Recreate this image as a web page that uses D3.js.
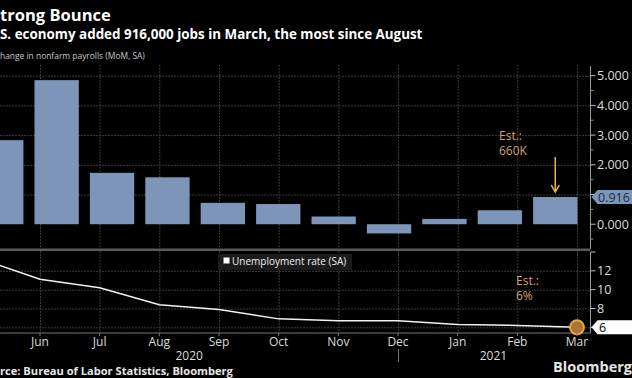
<!DOCTYPE html>
<html>
<head>
<meta charset="utf-8">
<script src="https://cdn.jsdelivr.net/npm/d3@7"></script>
<style>
  body { margin: 0; background: #000; }
  svg { display: block; font-family: "Open Sans", sans-serif; }
</style>
</head>
<body>
<div id="chart"></div>
<script>
// data
const months = ["May", "Jun", "Jul", "Aug", "Sep", "Oct", "Nov", "Dec", "Jan", "Feb", "Mar"];
const payrolls = [2.83, 4.85, 1.73, 1.58, 0.72, 0.68, 0.26, -0.31, 0.18, 0.47, 0.916]; // millions, MoM
const unemployment = [13.3, 11.1, 10.2, 8.4, 7.9, 6.9, 6.7, 6.7, 6.3, 6.2, 6.0];
const payrollTicks = [0, 1, 2, 3, 4, 5];
const payrollMinor = [-0.5, 0.5, 1.5, 2.5, 3.5, 4.5];
const rateTicks = [6, 8, 10, 12];
const yearLabels = [{year: "2020", at: 3.5}, {year: "2021", at: 8.6}];

const width = 632, height = 378;
const plotRight = 590.5;

const svg = d3.select("#chart")
    .append("svg")
    .attr("width", width)
    .attr("height", height);

svg.append("rect").attr("width", width).attr("height", height).attr("fill", "#000");

// scales
const xBar = d3.scaleBand()
    .domain(months)
    .range([-32, 588.5])
    .paddingInner(0.2)
    .paddingOuter(0.2);

// month positions for the line and the gridlines
const xIdx = d3.scaleLinear().domain([0, 10]).range([-19.7, 577]);

const yTop = d3.scaleLinear().domain([-0.8, 5.36]).range([248, 65]);
const yBot = d3.scaleLinear().domain([5.4, 14.0]).range([333, 252]);

const grid = "#3c3c3c";

// helper: draw text with the first chars cropped off the left edge, fit to a visible width
function croppedText(str, prefix, visibleWidth, y, size, weight, fill) {
    const t = svg.append("text")
        .attr("y", y)
        .attr("font-size", size)
        .attr("font-weight", weight)
        .attr("fill", fill)
        .text(str);
    const tmp = svg.append("text").attr("font-size", size).attr("font-weight", weight).text(prefix);
    const p = tmp.node().getComputedTextLength();
    tmp.remove();
    const full = t.node().getComputedTextLength();
    const k = visibleWidth / (full - p);
    t.attr("font-size", size * k).attr("x", -p * k);
    return t;
}

croppedText("Strong Bounce", "S", 111, 21, 19, "bold", "#fff");
croppedText("U.S. economy added 916,000 jobs in March, the most since August", "U.", 423, 39, 15, "bold", "#fff");
croppedText("Change in nonfarm payrolls (MoM, SA)", "C", 145, 59, 10, "normal", "#c8c8c8");
croppedText("Source: Bureau of Labor Statistics, Bloomberg", "Sou", 233, 375, 11, "bold", "#e6e6e6");

svg.append("text")
    .attr("x", 632).attr("y", 372)
    .attr("text-anchor", "end")
    .attr("font-size", 14.5)
    .attr("font-weight", "bold")
    .attr("fill", "#e6e6e6")
    .text("Bloomberg");

// ---- top panel ----
const topPanel = svg.append("g");

topPanel.selectAll(".hgrid")
    .data(payrollTicks.filter(d => d !== 0))
    .enter()
    .append("line")
        .attr("x1", 0).attr("x2", plotRight)
        .attr("y1", d => yTop(d) + 0.5).attr("y2", d => yTop(d) + 0.5)
        .attr("stroke", grid).attr("stroke-dasharray", "2,1");

topPanel.selectAll(".vgrid")
    .data(d3.range(1, 11))
    .enter()
    .append("line")
        .attr("x1", d => xIdx(d) + 0.5).attr("x2", d => xIdx(d) + 0.5)
        .attr("y1", 65).attr("y2", 248)
        .attr("stroke", grid).attr("stroke-dasharray", "2,1");

topPanel.selectAll(".bar")
    .data(payrolls)
    .enter()
    .append("rect")
        .attr("x", (d, i) => xBar(months[i]))
        .attr("width", xBar.bandwidth())
        .attr("y", d => yTop(Math.max(0, d)))
        .attr("height", d => Math.abs(yTop(d) - yTop(0)))
        .attr("fill", "#7d95b9");

// right axis
topPanel.append("line")
    .attr("x1", plotRight).attr("x2", plotRight)
    .attr("y1", 66).attr("y2", 249)
    .attr("stroke", "#9a9a9a");

topPanel.selectAll(".tick")
    .data(payrollTicks)
    .enter()
    .append("line")
        .attr("x1", plotRight).attr("x2", plotRight + 5)
        .attr("y1", d => yTop(d)).attr("y2", d => yTop(d))
        .attr("stroke", "#bbb");

topPanel.selectAll(".minor")
    .data(payrollMinor)
    .enter()
    .append("line")
        .attr("x1", plotRight).attr("x2", plotRight + 3)
        .attr("y1", d => yTop(d)).attr("y2", d => yTop(d))
        .attr("stroke", "#888");

const fmt3 = d3.format(".3f");
const lastP = payrolls[payrolls.length - 1];
const yl = yTop(lastP);

// tick labels hidden behind the last-value tag are skipped
topPanel.selectAll(".tlabel")
    .data(payrollTicks.filter(d => Math.abs(yTop(d) - yl) > 14))
    .enter()
    .append("text")
        .attr("x", 597)
        .attr("y", d => yTop(d) + 4.5)
        .attr("font-size", 12.5)
        .attr("fill", "#dcdcdc")
        .text(d => fmt3(d));

// last value tag
topPanel.append("path")
    .attr("d", `M${plotRight + 1},${yl} L${plotRight + 7},${yl - 7} L640,${yl - 7} L640,${yl + 7} L${plotRight + 7},${yl + 7} Z`)
    .attr("fill", "#7d95b9");
topPanel.append("text")
    .attr("x", 598).attr("y", yl + 4.5)
    .attr("font-size", 12.5)
    .attr("fill", "#1c2b47")
    .text(fmt3(lastP));

// estimate annotation
const est = topPanel.append("g").attr("fill", "#d6a36c").attr("font-size", 12);
est.append("text").attr("x", 499).attr("y", 139.5).text("Est.:");
est.append("text").attr("x", 499).attr("y", 155).text("660K");

const ax = xBar("Mar") + xBar.bandwidth() / 2;
topPanel.append("line")
    .attr("x1", ax).attr("x2", ax)
    .attr("y1", 157).attr("y2", yl - 5)
    .attr("stroke", "#f0b445").attr("stroke-width", 1.5);
topPanel.append("path")
    .attr("d", `M${ax - 4},${yl - 12} L${ax},${yl - 5} L${ax + 4},${yl - 12}`)
    .attr("fill", "none")
    .attr("stroke", "#f0b445").attr("stroke-width", 1.5);

// separator band
svg.append("rect")
    .attr("x", 0).attr("y", 248.5)
    .attr("width", plotRight).attr("height", 2.5)
    .attr("fill", "#5a5a5a");

// ---- bottom panel ----
const botPanel = svg.append("g");

botPanel.selectAll(".hgrid")
    .data(rateTicks)
    .enter()
    .append("line")
        .attr("x1", 0).attr("x2", plotRight)
        .attr("y1", d => yBot(d) + 0.5).attr("y2", d => yBot(d) + 0.5)
        .attr("stroke", grid).attr("stroke-dasharray", "2,1");

botPanel.selectAll(".vgrid")
    .data(d3.range(1, 11))
    .enter()
    .append("line")
        .attr("x1", d => xIdx(d) + 0.5).attr("x2", d => xIdx(d) + 0.5)
        .attr("y1", 251).attr("y2", 333)
        .attr("stroke", grid).attr("stroke-dasharray", "2,1");

// legend
botPanel.append("rect")
    .attr("x", 218).attr("y", 254)
    .attr("width", 134).attr("height", 16)
    .attr("fill", "#1b1b1b");
botPanel.append("rect")
    .attr("x", 223.5).attr("y", 257.5)
    .attr("width", 6).attr("height", 6)
    .attr("fill", "#fff");
botPanel.append("text")
    .attr("x", 232).attr("y", 265)
    .attr("font-size", 10)
    .attr("fill", "#eee")
    .text("Unemployment rate (SA)");

const line = d3.line()
    .x((d, i) => xIdx(i))
    .y(d => yBot(d));

botPanel.append("path")
    .datum(unemployment)
    .attr("d", line)
    .attr("fill", "none")
    .attr("stroke", "#f2f2f2")
    .attr("stroke-width", 1.5);

// x axis line
botPanel.append("line")
    .attr("x1", 0).attr("x2", plotRight)
    .attr("y1", 333).attr("y2", 333)
    .attr("stroke", "#777");

// right axis
botPanel.append("line")
    .attr("x1", plotRight).attr("x2", plotRight)
    .attr("y1", 252).attr("y2", 333)
    .attr("stroke", "#9a9a9a");
botPanel.append("line")
    .attr("x1", plotRight).attr("x2", plotRight + 5)
    .attr("y1", yBot(14)).attr("y2", yBot(14))
    .attr("stroke", "#bbb");

botPanel.selectAll(".tick")
    .data(rateTicks)
    .enter()
    .append("line")
        .attr("x1", plotRight).attr("x2", plotRight + 5)
        .attr("y1", d => yBot(d)).attr("y2", d => yBot(d))
        .attr("stroke", "#bbb");

const lastU = unemployment[unemployment.length - 1];
const yu = yBot(lastU);

botPanel.selectAll(".tlabel")
    .data(rateTicks.filter(d => Math.abs(yBot(d) - yu) > 14))
    .enter()
    .append("text")
        .attr("x", 597)
        .attr("y", d => yBot(d) + 4.5)
        .attr("font-size", 12.5)
        .attr("fill", "#dcdcdc")
        .text(d => d);

// last value tag
botPanel.append("path")
    .attr("d", `M${plotRight + 1},${yu} L${plotRight + 7},${yu - 7} L640,${yu - 7} L640,${yu + 7} L${plotRight + 7},${yu + 7} Z`)
    .attr("fill", "#fff");
botPanel.append("text")
    .attr("x", 599).attr("y", yu + 4.5)
    .attr("font-size", 12.5)
    .attr("fill", "#000")
    .text(d3.format("d")(lastU));

// estimate marker
botPanel.append("circle")
    .attr("cx", xIdx(10)).attr("cy", yu)
    .attr("r", 7)
    .attr("fill", "#a87438")
    .attr("stroke", "#eea535")
    .attr("stroke-width", 2);

const est2 = botPanel.append("g").attr("fill", "#d6a36c").attr("font-size", 12);
est2.append("text").attr("x", 516).attr("y", 284.5).text("Est.:");
est2.append("text").attr("x", 516).attr("y", 300).text("6%");

// month labels
botPanel.selectAll(".mlabel")
    .data(months.slice(1))
    .enter()
    .append("text")
        .attr("x", (d, i) => xIdx(i + 1))
        .attr("y", 346)
        .attr("text-anchor", "middle")
        .attr("font-size", 12)
        .attr("fill", "#dcdcdc")
        .text(d => d);

botPanel.selectAll(".mtick")
    .data(d3.range(1, 11))
    .enter()
    .append("line")
        .attr("x1", d => xIdx(d)).attr("x2", d => xIdx(d))
        .attr("y1", 333).attr("y2", 336)
        .attr("stroke", "#777");

// year labels and divider
botPanel.selectAll(".year")
    .data(yearLabels)
    .enter()
    .append("text")
        .attr("x", d => xIdx(d.at))
        .attr("y", 360)
        .attr("text-anchor", "middle")
        .attr("font-size", 12)
        .attr("fill", "#dcdcdc")
        .text(d => d.year);

botPanel.append("line")
    .attr("x1", xIdx(7) + 0.5).attr("x2", xIdx(7) + 0.5)
    .attr("y1", 349).attr("y2", 362)
    .attr("stroke", "#777");
</script>
</body>
</html>
